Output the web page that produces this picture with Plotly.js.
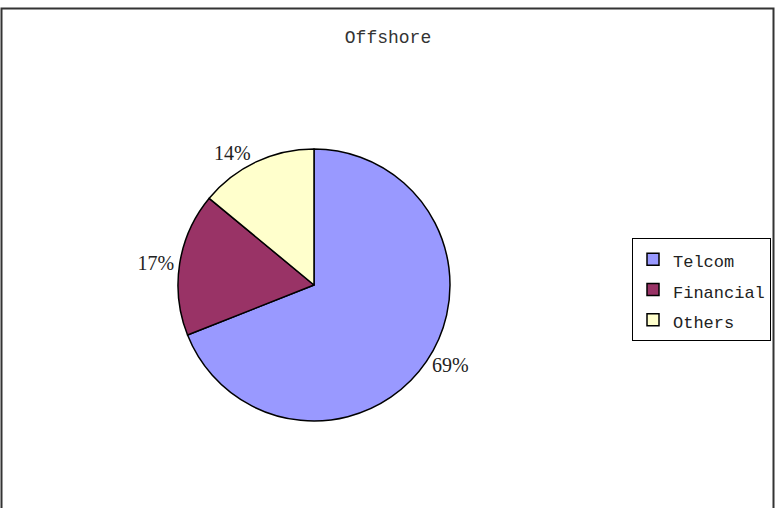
<!DOCTYPE html>
<html>
<head>
<meta charset="utf-8">
<script src="https://cdn.plot.ly/plotly-3.0.1.min.js"></script>
<style>html,body{margin:0;padding:0;background:#fff;}#chart{width:780px;height:508px;}</style>
</head>
<body>
<div id="chart"></div>
<script>
var categories = ["Telcom", "Financial", "Others"];
var values = [69, 17, 14];
var colors = ["#9999FF", "#993366", "#FFFFCC"];
var chartTitle = "Offshore";

var W = 780, H = 508;
var cx = 314, cy = 285, R = 136;

var legendLabels = categories.map(function (c) {
  return '<span style="font-size:17px">' + c + '</span>';
});

var trace = {
  type: "pie",
  labels: legendLabels,
  values: values,
  sort: false,
  direction: "clockwise",
  rotation: 0,
  textinfo: "percent",
  textposition: "outside",
  texttemplate: "%{percent:.0%}",
  outsidetextfont: {family: "Liberation Serif, serif", size: 20, color: "#222"},
  marker: {colors: colors, line: {color: "#000", width: 1.5}},
  hoverinfo: "none",
  automargin: false,
  domain: {x: [(cx - R) / W, (cx + R) / W], y: [1 - (cy + R) / H, 1 - (cy - R) / H]}
};

var layout = {
  width: W, height: H,
  margin: {l: 0, r: 0, t: 0, b: 0},
  paper_bgcolor: "#fff",
  showlegend: true,
  title: {text: chartTitle, font: {family: "Liberation Mono, monospace", size: 18, color: "#333"},
          x: 388 / W, xanchor: "center", y: 1 - 37 / H, yanchor: "middle", xref: "paper", yref: "paper"},
  legend: {x: 632 / W, y: 1 - 238 / H, xanchor: "left", yanchor: "top",
           bordercolor: "#000", borderwidth: 1, bgcolor: "#fff",
           font: {family: "Liberation Mono, monospace", size: 21, color: "#222"}},
  shapes: [
    {type: "rect", xref: "paper", yref: "paper", x0: 1.5 / W, x1: 773.5 / W, y0: -0.05, y1: 1 - 8.5 / H,
     line: {color: "#333", width: 2}, fillcolor: "rgba(0,0,0,0)", layer: "below"}
  ]
};

Plotly.newPlot("chart", [trace], layout, {displayModeBar: false, staticPlot: true});
</script>
</body>
</html>
